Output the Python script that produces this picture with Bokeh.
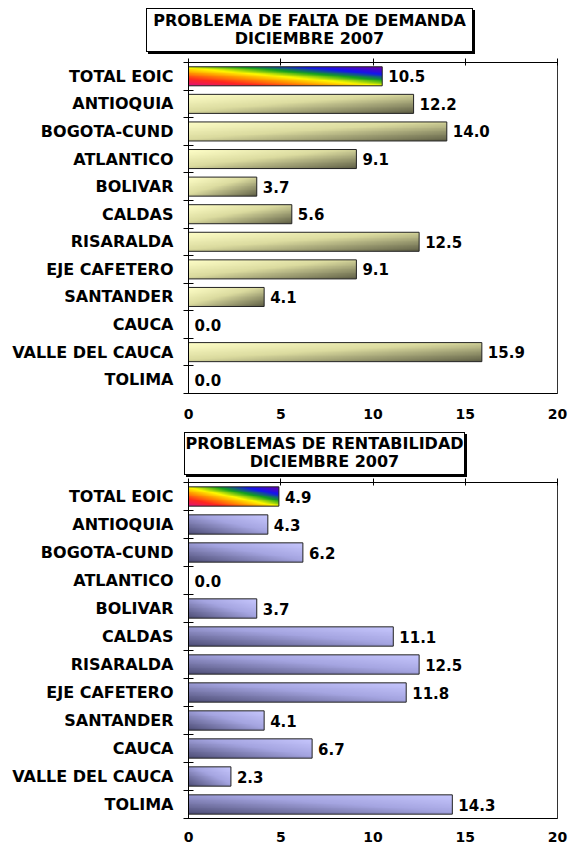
import numpy as np
from bokeh.plotting import figure
from bokeh.models import Range1d, LinearAxis, FixedTicker, Div
from bokeh.layouts import column
from bokeh.core.properties import value
from bokeh.embed import file_html
from bokeh.resources import INLINE

# ---------------- data ----------------
categories = ["TOTAL EOIC", "ANTIOQUIA", "BOGOTA-CUND", "ATLANTICO", "BOLIVAR",
              "CALDAS", "RISARALDA", "EJE CAFETERO", "SANTANDER", "CAUCA",
              "VALLE DEL CAUCA", "TOLIMA"]
falta_demanda = [10.5, 12.2, 14.0, 9.1, 3.7, 5.6, 12.5, 9.1, 4.1, 0.0, 15.9, 0.0]
rentabilidad = [4.9, 4.3, 6.2, 0.0, 3.7, 11.1, 12.5, 11.8, 4.1, 6.7, 2.3, 14.3]
x_ticks = [0, 5, 10, 15, 20]
x_max = 20
title1 = ["PROBLEMA DE FALTA DE DEMANDA", "DICIEMBRE 2007"]
title2 = ["PROBLEMAS DE RENTABILIDAD", "DICIEMBRE 2007"]

FONT = "DejaVu Sans"
W = 579

# ---------------- gradient fills ----------------
NY, NX = 24, 300
U = np.linspace(0, 1, NX)[None, :]
V = np.linspace(0, 1, NY)[:, None]          # row 0 is drawn at the bottom


def ramp(t, stops):
    p = [s[0] for s in stops]
    chans = [np.interp(t, p, [s[1][k] for s in stops]) for k in range(3)]
    img = np.empty(t.shape, dtype=np.uint32)
    view = img.view(dtype=np.uint8).reshape(t.shape + (4,))
    for k in range(3):
        view[..., k] = np.clip(chans[k], 0, 255).astype(np.uint8)
    view[..., 3] = 255
    return img


RAINBOW = ramp((U + V) / 2.0, [(0.0, (225, 20, 120)), (0.18, (255, 40, 30)),
                               (0.34, (255, 150, 0)), (0.48, (255, 250, 0)),
                               (0.64, (20, 160, 30)), (0.80, (20, 20, 240)),
                               (1.0, (110, 0, 170))])
YELLOW = ramp((U + (1 - V)) / 2.0, [(0.0, (255, 255, 200)), (0.45, (220, 220, 160)),
                                     (1.0, (95, 95, 70))])
BLUE = ramp((U + V) / 2.0, [(0.0, (78, 78, 118)), (0.55, (165, 165, 225)),
                             (1.0, (200, 200, 255))])


def title_div(lines, height, left, top, box_w, box_h, pad_top):
    html = (
        f'<div style="position:absolute; left:{left}px; top:{top}px; width:{box_w}px; '
        f'height:{box_h}px; box-sizing:border-box; border:1px solid #000; '
        f'box-shadow:2px 2px 0 #000; background:#fff; color:#000; '
        f"font-family:'{FONT}'; font-weight:bold; font-size:16px; line-height:18px; "
        f'text-align:center; padding-top:{pad_top}px; white-space:nowrap;">'
        + "<br>".join(lines) + "</div>"
    )
    return Div(text=html, width=W, height=height, margin=(0, 0, 0, 0),
               styles={"position": "relative"})


def make_chart(vals, body_img, height, mb, left_standoff, bottom_standoff, bar_h):
    n = len(categories)
    pos = [n - 1 - i for i in range(n)]
    p = figure(width=W, height=height, x_range=Range1d(0, x_max),
               y_range=Range1d(-0.5, n - 0.5), x_axis_location=None, y_axis_location=None,
               toolbar_location=None, output_backend="svg",
               min_border_left=mb[0], min_border_right=mb[1],
               min_border_top=mb[2], min_border_bottom=mb[3])
    p.grid.visible = False
    p.outline_line_color = "#333333"
    p.outline_line_width = 1
    p.background_fill_color = "white"
    p.border_fill_color = "white"

    # gradient bodies
    imgs, ys, dws = [], [], []
    for i, v in enumerate(vals):
        if v <= 0:
            continue
        imgs.append(RAINBOW if i == 0 else body_img)
        ys.append(pos[i] - bar_h / 2.0)
        dws.append(v)
    p.image_rgba(image=imgs, x=[0] * len(imgs), y=ys, dw=dws, dh=[bar_h] * len(imgs))
    # bar outlines
    p.hbar(y=pos, left=0, right=vals, height=bar_h, fill_color=None,
           line_color="#222222", line_width=1)
    # value labels
    p.text(x=vals, y=pos, text=[f"{v:.1f}" for v in vals], x_offset=6,
           text_baseline="middle", text_align="left", text_font=value(FONT),
           text_font_style="bold", text_font_size="15px", text_color="black")

    # left category axis
    left = LinearAxis(ticker=FixedTicker(ticks=pos, minor_ticks=[k - 0.5 for k in range(n + 1)]),
                      major_label_overrides={pos[i]: categories[i] for i in range(n)})
    left.major_tick_in = 0
    left.major_tick_out = 0
    left.minor_tick_in = 5
    left.minor_tick_out = 5
    left.minor_tick_line_color = "black"
    left.axis_line_color = "black"
    left.major_label_standoff = left_standoff
    left.major_label_text_font = FONT
    left.major_label_text_font_style = "bold"
    left.major_label_text_font_size = "16px"
    left.major_label_text_color = "black"
    p.add_layout(left, "left")

    # top axis: ticks only
    top = LinearAxis(ticker=FixedTicker(ticks=[], minor_ticks=x_ticks))
    top.minor_tick_in = 3
    top.minor_tick_out = 4
    top.major_tick_in = 0
    top.major_tick_out = 0
    top.major_label_standoff = 0
    top.minor_tick_line_color = "black"
    top.axis_line_color = "black"
    p.add_layout(top, "above")

    # bottom axis: labels only
    bot = LinearAxis(ticker=FixedTicker(ticks=x_ticks, minor_ticks=[]))
    bot.major_tick_in = 0
    bot.major_tick_out = 0
    bot.axis_line_color = "black"
    bot.major_label_standoff = bottom_standoff
    bot.major_label_text_font = FONT
    bot.major_label_text_font_style = "bold"
    bot.major_label_text_font_size = "14px"
    bot.major_label_text_color = "black"
    p.add_layout(bot, "below")
    return p


d1 = title_div(title1, 56, 146, 8, 327, 44, 3)
p1 = make_chart(falta_demanda, YELLOW, 372, (188, 22, 6, 35), 10, 15, 0.69)
d2 = title_div(title2, 50, 184, 4, 281, 43, 2)
p2 = make_chart(rentabilidad, BLUE, 370, (187, 12, 4, 30), 10, 13, 0.69)

layout = column(d1, p1, d2, p2, spacing=0)
open("out.html", "w").write(file_html(layout, INLINE))
